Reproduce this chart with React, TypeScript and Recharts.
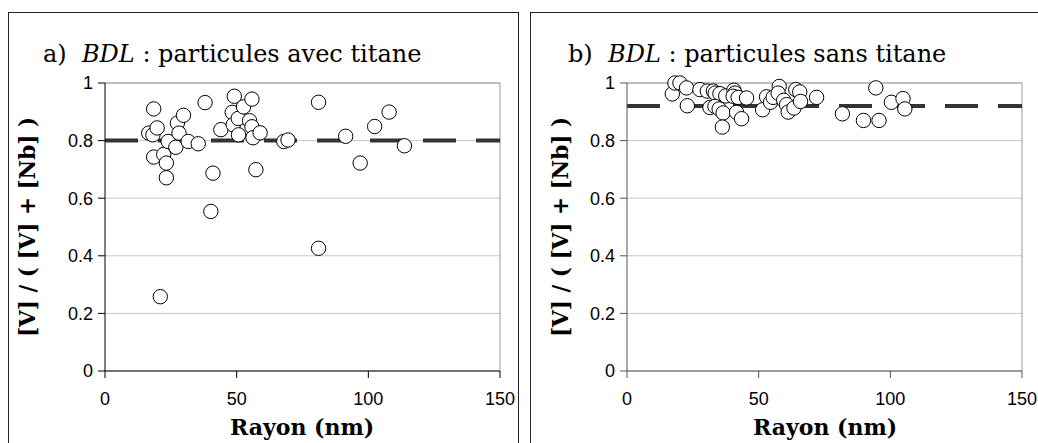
import React from "react";
import {
  CartesianGrid,
  ReferenceLine,
  Scatter,
  ScatterChart,
  XAxis,
  YAxis,
} from "recharts";

// rayon (nm) / ratio [V]/([V]+[Nb])
const radiusA = [
  16.6, 18.2, 18.5, 19.8, 18.5, 21.0, 22.3, 23.3, 23.3, 24.0, 26.9, 27.5, 28.1, 29.8, 31.6, 35.4,
  38.0, 40.2, 41.0, 44.0, 48.3, 49.1, 48.7, 50.6, 50.7, 52.6, 54.9, 55.8, 55.8, 56.2, 58.9, 57.3,
  67.9, 69.5, 81.1, 81.1, 91.4, 96.9, 102.4, 107.9, 113.7,
];
const ratioA = [
  0.826, 0.82, 0.91, 0.844, 0.743, 0.258, 0.752, 0.722, 0.671, 0.797, 0.777, 0.861, 0.826, 0.888,
  0.797, 0.789, 0.932, 0.554, 0.687, 0.838, 0.898, 0.954, 0.855, 0.877, 0.82, 0.917, 0.869, 0.944,
  0.848, 0.81, 0.827, 0.699, 0.797, 0.802, 0.933, 0.426, 0.815, 0.722, 0.849, 0.899, 0.782,
];

const radiusB = [
  17.2, 18.2, 20.1, 22.6, 22.9, 27.7, 30.5, 32.8, 33.5, 35.3, 37.5, 31.5, 33.4, 35.0, 36.5, 36.2,
  40.6, 41.0, 40.3, 42.2, 45.4, 41.6, 43.5, 51.5, 53.0, 54.5, 55.5, 57.8, 57.4, 59.5, 60.6, 61.2,
  63.4, 64.1, 65.6, 65.9, 72.0, 81.8, 89.8, 95.7, 94.5, 100.4, 104.8, 105.5,
];
const ratioB = [
  0.962, 1.0, 1.0, 0.983, 0.921, 0.977, 0.972, 0.972, 0.965, 0.963, 0.955, 0.915, 0.919, 0.91,
  0.896, 0.847, 0.975, 0.965, 0.954, 0.95, 0.948, 0.898, 0.876, 0.907, 0.952, 0.933, 0.95, 0.988,
  0.965, 0.94, 0.925, 0.899, 0.913, 0.977, 0.969, 0.936, 0.95, 0.893, 0.87, 0.87, 0.983, 0.933,
  0.946, 0.91,
];

const meanA = 0.8;
const meanB = 0.92;

const xTicks = [0, 50, 100, 150];
const yTicks = [0, 0.2, 0.4, 0.6, 0.8, 1];

const yTitle = "[V] / ( [V] + [Nb] )";
const xTitle = "Rayon (nm)";

const tickStyle = { fill: "#000", fontSize: 18, fontFamily: "Liberation Sans, Arial, sans-serif" };

function OpenCircle(props: any) {
  const { cx, cy } = props;
  if (cx == null || cy == null) return null;
  return <circle cx={cx} cy={cy} r={7.2} fill="#fff" stroke="#000" strokeWidth={1} />;
}

interface PanelProps {
  left: number;
  points: { x: number; y: number }[];
  mean: number;
  axisColor: string;
}

function Panel({ left, points, mean, axisColor }: PanelProps) {
  return (
    <div style={{ position: "absolute", left, top: 0 }}>
      <ScatterChart width={520} height={443} margin={{ top: 83, right: 20, bottom: 42, left: 45 }}>
        <CartesianGrid horizontal vertical={false} stroke="#c8c8c8" />
        <XAxis
          type="number"
          dataKey="x"
          domain={[0, 150]}
          ticks={xTicks}
          interval={0}
          height={30}
          tick={tickStyle}
          tickSize={7}
          tickMargin={14}
          axisLine={{ stroke: axisColor }}
          tickLine={{ stroke: axisColor }}
        />
        <YAxis
          type="number"
          dataKey="y"
          domain={[0, 1]}
          ticks={yTicks}
          interval={0}
          width={60}
          tick={tickStyle}
          tickSize={7}
          tickMargin={5}
          axisLine={{ stroke: axisColor }}
          tickLine={{ stroke: axisColor }}
        />
        <ReferenceLine y={1} stroke="#999" />
        <ReferenceLine x={150} stroke="#999" />
        <ReferenceLine y={mean} stroke="#333" strokeWidth={4} strokeDasharray="33 20" />
        <Scatter data={points} shape={<OpenCircle />} isAnimationActive={false} />
      </ScatterChart>
    </div>
  );
}

export default function App() {
  const pointsA = radiusA.map((r, i) => ({ x: r, y: ratioA[i] }));
  const pointsB = radiusB.map((r, i) => ({ x: r, y: ratioB[i] }));
  const serif = "DejaVu Serif, serif";

  return (
    <div
      style={{
        position: "fixed",
        left: 0,
        top: 0,
        width: 1038,
        height: 443,
        background: "#fff",
        overflow: "hidden",
      }}
    >
      <div style={{ position: "absolute", left: 8, top: 12, width: 509, height: 460, border: "1px solid #222" }} />
      <div style={{ position: "absolute", left: 530, top: 12, width: 540, height: 460, border: "1px solid #222" }} />
      <Panel left={0} points={pointsA} mean={meanA} axisColor="#000" />
      <Panel left={522} points={pointsB} mean={meanB} axisColor="#555" />
      <svg
        width={1038}
        height={443}
        style={{ position: "absolute", left: 0, top: 0, pointerEvents: "none" }}
        fontFamily={serif}
      >
        <text x={43} y={62} fontSize={24} fill="#000">
          a){"\u00a0 "}
          <tspan fontStyle="italic">BDL</tspan> : particules avec titane
        </text>
        <text x={568} y={62} fontSize={24} fill="#000">
          b){"\u00a0 "}
          <tspan fontStyle="italic">BDL</tspan> : particules sans titane
        </text>
        <text
          x={27}
          y={227}
          fontSize={21.5}
          fontWeight="bold"
          textAnchor="middle"
          dominantBaseline="central"
          transform="rotate(-90 27 227)"
        >
          {yTitle}
        </text>
        <text
          x={560}
          y={227}
          fontSize={21.5}
          fontWeight="bold"
          textAnchor="middle"
          dominantBaseline="central"
          transform="rotate(-90 560 227)"
        >
          {yTitle}
        </text>
        <text x={302} y={435} fontSize={22} fontWeight="bold" textAnchor="middle">
          {xTitle}
        </text>
        <text x={825} y={435} fontSize={22} fontWeight="bold" textAnchor="middle">
          {xTitle}
        </text>
      </svg>
    </div>
  );
}
